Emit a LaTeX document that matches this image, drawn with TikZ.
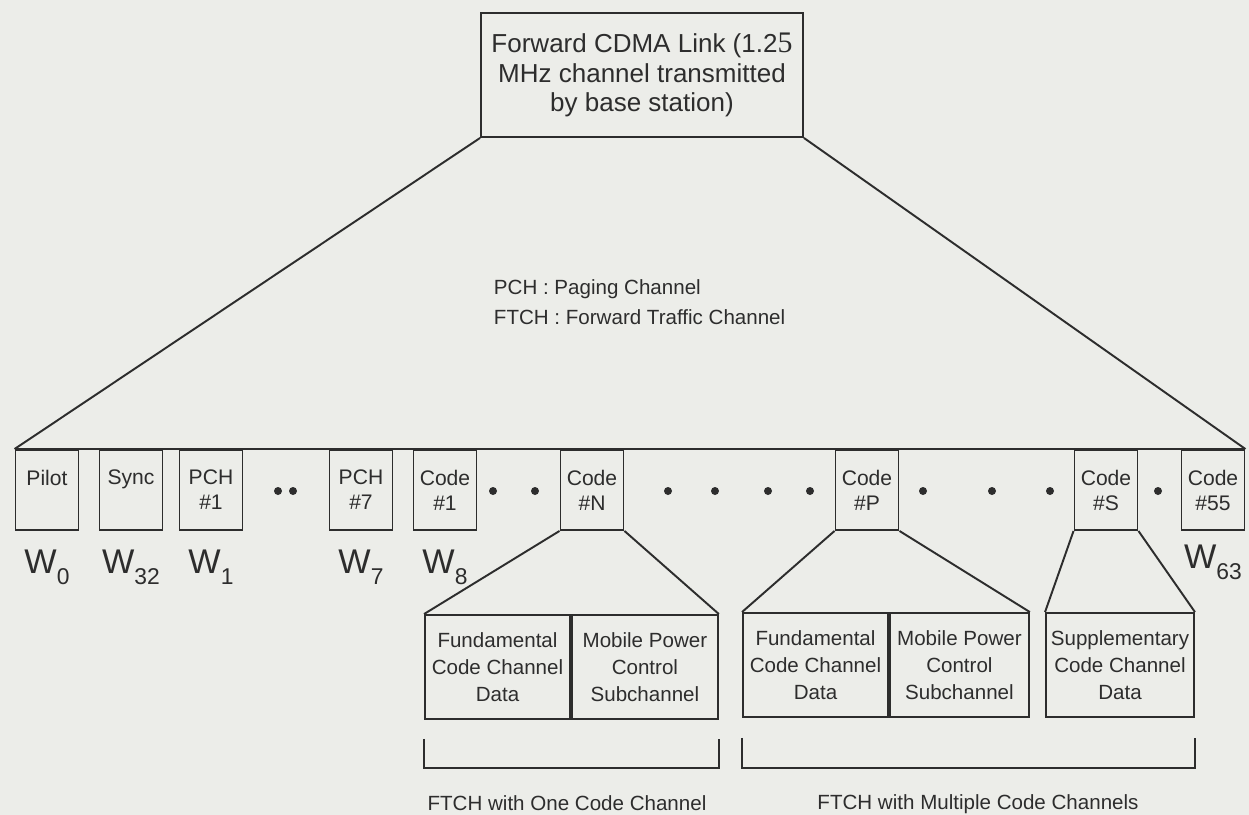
\documentclass[tikz,border=0pt]{standalone}
\usepackage{fontspec}
\setmainfont{Liberation Sans}
\newfontfamily\fixfont{Liberation Serif}
\usepackage{tikz}
\usetikzlibrary{positioning}

\definecolor{paper}{RGB}{236,237,233}
\definecolor{ink}{RGB}{45,45,45}
\newcommand{\wname}[1]{W\raisebox{-0.3em}{\fontsize{13}{13}\selectfont #1}}

\begin{document}
\begin{tikzpicture}[x=0.02cm, y=-0.02cm, line width=1.1pt, color=ink,
        chan/.style={draw, minimum width=1.26cm, minimum height=1.6cm, inner sep=0pt,
            align=center, font=\fontsize{12}{14.2}\selectfont},
        part/.style={draw, minimum height=2.08cm, inner sep=1pt,
            align=center, font=\fontsize{11.7}{15.5}\selectfont},
        wlab/.style={anchor=base, inner sep=0pt, font=\fontsize{19.5}{19.5}\selectfont},
        note/.style={inner sep=0pt, font=\fontsize{11.7}{14}\selectfont}]
        % Paper and page size
        \fill[paper] (0,0) rectangle (1249,815);
        \useasboundingbox (0,0) rectangle (1249,815);

        % Draw the forward link box
        \node[draw, minimum width=6.44cm, minimum height=2.48cm, align=center,
            font=\fontsize{14.8}{17}\selectfont] (link) at (642,75)
            {Forward CDMA Link (1.2{\fixfont\fontsize{17}{17}\selectfont 5}\\MHz channel transmitted\\by base station)};

        % Legend
        \node[note, align=left, anchor=west, font=\fontsize{11.7}{17}\selectfont] (legend) at (493,302)
            {PCH : Paging Channel\\FTCH : Forward Traffic Channel};

        % Draw the code channels
        \node[chan] (pilot) at (47,490) {Pilot\\ \mbox{}};
        \node[chan] (sync) at (131,490) {Sync\\ \mbox{}};
        \node[chan] (pch1) at (211,490) {PCH\\\#1};
        \node[chan] (pch7) at (361,490) {PCH\\\#7};
        \node[chan] (code1) at (445,490) {Code\\\#1};
        \node[chan] (codeN) at (592,490) {Code\\\#N};
        \node[chan] (codeP) at (867,490) {Code\\\#P};
        \node[chan] (codeS) at (1106,490) {Code\\\#S};
        \node[chan] (code55) at (1213,490) {Code\\\#55};

        % Lines from the link box to the channel row
        \draw (pilot.north west) -- (code55.north east);
        \draw (link.south west) -- (pilot.north west);
        \draw (link.south east) -- (code55.north east);

        % Dots between the channels
        \foreach \x in {278,293,493,535,668,715,768,810,923,992,1050,1158}
            \fill (\x,491) circle (0.08cm);

        % Walsh codes
        \node[wlab] (w0) at ([yshift=-0.86cm]pilot.south) {\wname{0}};
        \node[wlab] (w32) at ([yshift=-0.86cm]sync.south) {\wname{32}};
        \node[wlab] (w1) at ([yshift=-0.86cm]pch1.south) {\wname{1}};
        \node[wlab] (w7) at ([yshift=-0.86cm]pch7.south) {\wname{7}};
        \node[wlab] (w8) at ([yshift=-0.86cm]code1.south) {\wname{8}};
        \node[wlab] (w63) at ([yshift=-0.76cm]code55.south) {\wname{63}};

        % Traffic channel contents
        \node[part, minimum width=2.9cm] (fund1) at (497.5,667) {Fundamental\\Code Channel\\Data};
        \node[part, minimum width=2.92cm, right=0pt of fund1] (power1) {Mobile Power\\Control\\Subchannel};
        \node[part, minimum width=2.9cm] (fund2) at (815.5,665) {Fundamental\\Code Channel\\Data};
        \node[part, minimum width=2.78cm, right=0pt of fund2] (power2) {Mobile Power\\Control\\Subchannel};
        \node[part, minimum width=2.96cm] (supp) at (1120,665) {Supplementary\\Code Channel\\Data};

        \draw (codeN.south west) -- (fund1.north west);
        \draw (codeN.south east) -- (power1.north east);
        \draw (codeP.south west) -- (fund2.north west);
        \draw (codeP.south east) -- (power2.north east);
        \draw (codeS.south west) -- (supp.north west);
        \draw (codeS.south east) -- (supp.north east);

        % Brackets
        \draw ([yshift=-0.38cm]fund1.south west) -- ++(0,29) -| ([yshift=-0.38cm]power1.south east);
        \draw ([yshift=-0.4cm]fund2.south west) -- ++(0,30) -| ([yshift=-0.4cm]supp.south east);
        \node[note] (one) at (567,803) {FTCH with One Code Channel};
        \node[note] (multi) at (978,804) {FTCH with Multiple Code Channels};
    \end{tikzpicture}
\end{document}
